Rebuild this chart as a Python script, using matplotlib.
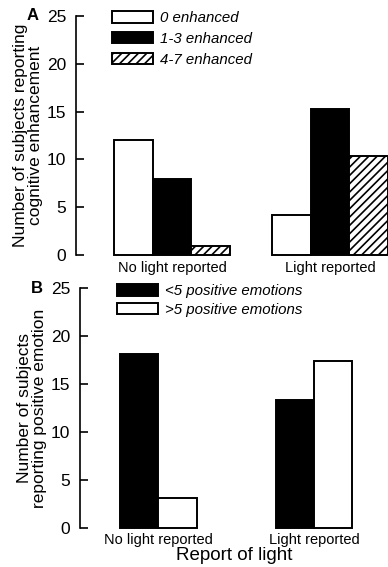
import numpy as np
import matplotlib.pyplot as plt
from matplotlib.patches import Patch

plt.rcParams['font.family'] = ['Liberation Sans', 'DejaVu Sans']
plt.rcParams['hatch.linewidth'] = 1.2

groups = ["No light reported", "Light reported"]

# panel A: cognitive enhancement
a_labels = ["0 enhanced", "1-3 enhanced", "4-7 enhanced"]
a_zero = [12, 4.2]
a_mid = [8, 15.3]
a_high = [1, 10.4]

# panel B: positive emotion
b_labels = ["<5 positive emotions", ">5 positive emotions"]
b_low = [18.1, 13.3]
b_high = [3.1, 17.4]

fig = plt.figure(figsize=(3.88, 5.67), dpi=100)
axA = fig.add_axes([0.196, 0.550, 0.804, 0.422])
axB = fig.add_axes([0.206, 0.069, 0.794, 0.423])

x = np.arange(len(groups))
w = 0.245
lw = 1.4


def style(ax, ylab, letter):
    ax.set_ylim(0, 25)
    ax.set_yticks([0, 5, 10, 15, 20, 25])
    for s in ["top", "right", "bottom"]:
        ax.spines[s].set_visible(False)
    ax.spines["left"].set_linewidth(1.2)
    ax.tick_params(axis="y", direction="in", length=6, width=1.2, pad=7, labelsize=12.5)
    ax.set_xticks(x)
    ax.set_xticklabels(groups, fontsize=10.5)
    ax.tick_params(axis="x", length=0, pad=4)
    ax.set_ylabel(ylab, fontsize=12.5, labelpad=3, linespacing=1.0)
    ax.text(-0.14, 1.0, letter, transform=ax.transAxes, fontsize=12,
            fontweight="bold", va="center", ha="center")


def legend(ax, handles, labels, anchor, spacing):
    ax.legend(handles, labels, loc="upper left", bbox_to_anchor=anchor,
              frameon=False, borderpad=0, borderaxespad=0,
              handlelength=2.75, handleheight=0.8, labelspacing=spacing,
              handletextpad=0.45, prop={"style": "italic", "size": 10.8})


# A
axA.bar(x - w, a_zero, w, color="white", edgecolor="black", lw=lw, clip_on=False)
axA.bar(x, a_mid, w, color="black", edgecolor="black", lw=lw, clip_on=False)
axA.bar(x + w, a_high, w, color="white", edgecolor="black", lw=lw, hatch="////", clip_on=False)
axA.set_xlim(-0.608, 1.367)
style(axA, "Number of subjects reporting\ncognitive enhancement", "A")
handlesA = [Patch(facecolor="white", edgecolor="black", lw=lw),
            Patch(facecolor="black", edgecolor="black", lw=lw),
            Patch(facecolor="white", edgecolor="black", lw=lw, hatch="////")]
legend(axA, handlesA, a_labels, (0.115, 1.02), 0.45)

# B
axB.bar(x - w / 2, b_low, w, color="black", edgecolor="black", lw=lw, clip_on=False)
axB.bar(x + w / 2, b_high, w, color="white", edgecolor="black", lw=lw, clip_on=False)
axB.set_xlim(-0.505, 1.476)
style(axB, "Number of subjects\nreporting positive emotion", "B")
axB.set_xlabel("Report of light", fontsize=13.5, labelpad=0)
handlesB = [Patch(facecolor="black", edgecolor="black", lw=lw),
            Patch(facecolor="white", edgecolor="black", lw=lw)]
legend(axB, handlesB, b_labels, (0.12, 1.015), 0.3)

fig.savefig("out.png", dpi=100)
